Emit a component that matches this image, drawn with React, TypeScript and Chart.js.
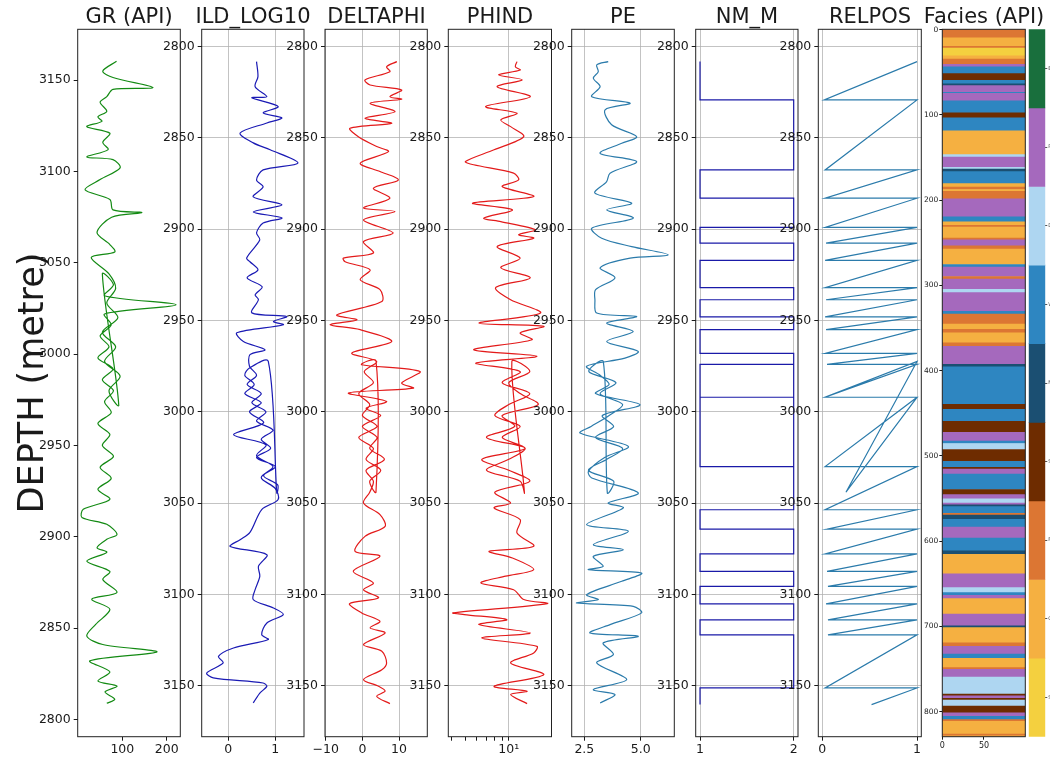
import React, { useEffect, useRef } from "react";
import { Chart, registerables } from "chart.js";
Chart.register(...registerables);

const FONT = "'DejaVu Sans', 'Liberation Sans', sans-serif";
const TEXT = "#1a1a1a";
const GRID = "rgba(175,175,175,0.75)";

// ---------- tick labels ----------
const depthTicks = [2800, 2850, 2900, 2950, 3000, 3050, 3100, 3150];
const grTicks = [100, 200];
const ildTicks = [0, 1];
const dphiTicks = [-10, 0, 10];
const phindTicks = [4, 5, 6, 7, 8, 9, 10];
const peTicks = [2.5, 5.0];
const nmTicks = [1, 2];
const relposTicks = [0, 1];
const faciesRowTicks = [0, 100, 200, 300, 400, 500, 600, 700, 800];
const faciesColTicks = [0, 50];

// ---------- GR ----------
const grDepthA = [2808.8, 2811, 2815, 2818.2, 2821, 2826, 2832, 2836.9, 2841, 2845.6, 2852, 2860.3, 2865.8, 2869.5, 2876.6, 2881, 2886.6, 2891.5, 2894, 2898.6, 2901.3, 2906.8, 2910.6, 2915, 2920.5, 2926, 2932, 2938, 2944, 2950, 2956, 2962, 2968, 2974, 2980, 2986, 2992, 2998, 3004, 3010, 3016, 3022, 3027, 3032, 3038, 3044];
const grA = [65, 83, 61, 88, 45, 72, 27, 178, 56, 20, 40, 72, 31, 88, 56, 72, 20, 65, 43, 65, 88, 65, 9, 12, 72, 45, 75, 50, 80, 55, 72, 45, 75, 60, 80, 55, 79, 45, 70, 50, 75, 60, 221, 60, 80, 55];
const grDepthB = [2972, 2980, 2988, 2996, 3004, 3012, 3020, 3028, 3036, 3044, 3053, 3056, 3060, 3066.6, 3075, 3077.5, 3079, 3084.7, 3090, 3095.6, 3102, 3106.5, 3108, 3112, 3116, 3121, 3124.6, 3127.5, 3130, 3133, 3138, 3141, 3145, 3146, 3151.5, 3155, 3160.4];
const grB = [92, 70, 95, 60, 85, 55, 90, 65, 85, 70, 30, 83, 72, 43, 76, 144, 79, 72, 16, 50, 95, 79, 20, 68, 56, 72, 20, 54, 45, 65, 50, 65, 79, 169, 79, 56, 87];

// ---------- ILD_LOG10 ----------
const ildDepthA = [2808.2, 2816.4, 2821.9, 2827.4, 2828, 2832.8, 2836.3, 2839, 2841.8, 2847.3, 2852.7, 2856.5, 2863.7, 2867.5, 2873, 2876.8, 2882.3, 2886.6, 2890.5, 2893.8, 2896.6, 2902, 2905.8, 2915.7, 2917.8, 2922.2, 2926.6, 2931.5, 2935.9, 2938.6, 2945.8, 2947.8, 2950.5, 2952.3, 2956.7, 2961.5, 2966, 2968.7, 2975, 2980, 2985, 2990, 2995, 3000, 3005, 3010, 3015, 3020, 3025, 3030, 3035, 3040, 3044.4];
const ildA = [0.6, 0.63, 0.57, 0.82, 0.5, 1.06, 0.74, 1.14, 0.82, 0.25, 0.53, 0.89, 1.48, 0.74, 0.6, 0.74, 0.53, 1.14, 0.53, 1.14, 0.74, 0.6, 0.67, 0.39, 0.46, 0.63, 0.4, 0.72, 0.57, 0.64, 0.5, 1.24, 0.96, 1.17, 0.18, 0.32, 0.78, 0.46, 0.45, 0.6, 0.4, 0.7, 0.5, 0.8, 0.6, 0.95, 0.7, 0.9, 0.6, 1.0, 0.75, 1.05, 1.03];
const ildDepthB = [2972.4, 2976, 2980, 2985, 2990, 2995, 3000, 3006, 3012.5, 3018, 3024, 3030, 3036, 3042, 3048, 3053.5, 3066, 3070, 3073.7, 3078.2, 3084.6, 3090, 3097.4, 3102.8, 3107.4, 3111, 3115.6, 3122, 3124.7, 3129.3, 3133.9, 3137.5, 3143, 3145.7, 3148.5, 3150.3, 3154, 3159.4];
const ildB = [0.85, 0.45, 0.35, 0.55, 0.35, 0.7, 0.45, 0.75, 0.11, 0.8, 0.6, 0.95, 0.7, 1.0, 1.06, 0.71, 0.46, 0.25, 0.04, 0.82, 0.64, 0.67, 0.57, 0.53, 0.96, 1.17, 0.82, 0.71, 0.85, 0.11, -0.21, -0.11, -0.46, -0.32, 0.74, 0.82, 0.67, 0.53];

// ---------- DELTAPHI ----------
const dphiDepthA = [2808.2, 2811, 2813.7, 2818.2, 2821, 2823.7, 2827.4, 2828.8, 2831, 2835.6, 2839.2, 2842, 2844.7, 2849.3, 2854.7, 2857.5, 2863.8, 2868.4, 2873, 2877.5, 2883, 2888.4, 2890.3, 2894.9, 2902.1, 2906.7, 2913, 2915.8, 2917.8, 2922.2, 2927.7, 2933.1, 2939.6, 2946.9, 2949.6, 2952.3, 2955, 2961.5, 2967.8, 2972.4, 2978, 2984, 2990, 2996, 3002, 3008, 3014, 3020, 3026, 3032, 3038, 3044];
const dphiA = [9.4, 6.6, 7.5, 0.7, 2.1, 10.7, 7.5, 10.7, 2.1, 8.9, 0.7, 8.0, -3.4, -1.1, 3.9, 7.1, -0.6, 4.8, 9.8, 3.0, 7.5, 0.3, 8.9, 0.3, 8.4, 0.3, 3.0, -5.2, -4.7, 2.1, -0.6, 4.8, 5.3, -7.0, -1.5, -8.8, -0.6, 8.0, -2.9, 3.9, 0.5, 3, -1, 2, 0, 4, -1, 3, 1, 5, 2, 3.7];
const dphiDepthB = [2972, 2974.2, 2977.9, 2984.2, 2987, 2989.7, 2994.3, 2998, 3002, 3008, 3014, 3020, 3026, 3032, 3038, 3044, 3049.9, 3056.3, 3062.7, 3068.2, 3076.4, 3079.1, 3087.3, 3093.7, 3097.4, 3101.9, 3105, 3110.1, 3114.7, 3118.3, 3121.1, 3127.5, 3131.1, 3137.5, 3141.2, 3146.6, 3150.3, 3153, 3155.8, 3159.8];
const dphiB = [3.7, -0.2, 15.7, 10.7, 13.9, -3.8, 6.6, 1, 5, 0, 4, 2, 6, 1, 3, 2, 0.3, 4.8, 6.2, 0.7, -2.0, 4.8, -2.5, 3.0, 0.3, 4.4, -3.5, -0.2, 4.8, 2.1, 6.2, 0.3, 5.3, 6.6, 5.3, 0.3, 4.4, 6.2, 3.9, 7.5];

// ---------- PHIND ----------
const phindDepthA = [2808.2, 2811, 2812.8, 2815.5, 2818.2, 2821.9, 2827.4, 2832.8, 2836.5, 2840.1, 2843.8, 2849.3, 2856.5, 2862.9, 2864.7, 2869.3, 2873, 2876.6, 2882.1, 2885.7, 2889.4, 2893.9, 2895.8, 2900.3, 2903, 2904.9, 2909.5, 2915.8, 2921.1, 2926.6, 2932, 2938.6, 2945.9, 2951.4, 2953.2, 2956.8, 2960.5, 2966, 2969.6, 2973.3, 2978, 2984, 2990, 2996, 3002, 3008, 3014, 3020, 3026, 3032, 3038, 3044.4];
const phindA = [11.4, 11.1, 12.0, 8.5, 12.4, 8.3, 14.1, 6.9, 11.4, 8.8, 10.3, 12.7, 7.9, 5.0, 5.7, 10.8, 11.7, 9.0, 14.9, 5.6, 10.6, 6.7, 8.8, 15.3, 11.7, 14.9, 8.3, 12.0, 8.8, 14.1, 8.1, 10.3, 16.6, 6.2, 17.5, 12.0, 14.5, 5.7, 15.7, 5.9, 12, 9, 14, 10, 8, 12, 9, 13, 10, 7, 12, 12.85];
const phindDepthB = [2972.4, 2978, 2984, 2990, 2996, 3002, 3008, 3014, 3020, 3026, 3032, 3038, 3044, 3049.9, 3052.6, 3059, 3066.3, 3073.6, 3076.4, 3080, 3086.4, 3090, 3093.7, 3097.4, 3102.8, 3105, 3110.1, 3111, 3113.8, 3116.5, 3121.1, 3123.8, 3128.4, 3132, 3137.5, 3143.9, 3150.3, 3153, 3154.8, 3159.8];
const phindB = [10.5, 14, 10, 12, 16, 9, 11, 7, 13, 6.5, 10, 14, 8, 10.3, 7.9, 12.0, 11.4, 14.9, 7.3, 10.6, 14.9, 9.5, 6.4, 10.8, 12.7, 18.5, 4.1, 4.9, 9.7, 6.2, 14.1, 6.5, 15.7, 14.9, 10.3, 17.5, 7.9, 13.4, 10.3, 13.4];

// ---------- PE ----------
const peDepthA = [2808.2, 2810, 2813.7, 2817.3, 2821.9, 2827.4, 2831, 2834.6, 2842.8, 2849.3, 2852.9, 2858.4, 2862.9, 2869.3, 2873.9, 2880.2, 2885.7, 2889.4, 2893.9, 2899.4, 2904.9, 2909.5, 2914, 2915.8, 2921.1, 2926.6, 2933.1, 2938.6, 2945.9, 2947.8, 2951.4, 2956, 2961.5, 2966.9, 2970.6, 2975, 2980, 2985, 2990, 2996.1, 3002, 3008, 3014, 3020, 3026, 3032, 3038, 3044.4];
const peA = [3.56, 3.05, 3.12, 2.9, 3.2, 2.83, 4.53, 3.42, 3.71, 4.82, 4.16, 3.2, 4.82, 3.64, 3.49, 2.97, 4.6, 3.49, 4.67, 2.83, 3.27, 4.6, 6.22, 4.53, 3.2, 3.86, 3.0, 2.97, 3.05, 4.82, 3.49, 4.67, 3.49, 4.89, 4.3, 2.6, 3.2, 3.6, 3.0, 4.97, 3.3, 3.8, 3.0, 4.2, 3.5, 2.68, 3.8, 3.52];
const peDepthB = [2972.4, 2978, 2984, 2990, 2996, 3002, 3008, 3011.6, 3018.9, 3025, 3032.6, 3036.2, 3044.4, 3049.9, 3052.6, 3061.8, 3065.4, 3072.7, 3075.5, 3079.1, 3084.6, 3086.4, 3088.3, 3092.8, 3100.1, 3102.8, 3104.7, 3106.5, 3110.1, 3116.5, 3121.1, 3122.9, 3126.5, 3132.9, 3137.5, 3146.6, 3152.1, 3154.8, 3159.4];
const peB = [3.34, 2.7, 3.9, 3.2, 4.2, 3.6, 2.8, 2.31, 4.45, 3.4, 2.68, 2.83, 4.89, 3.56, 4.23, 2.6, 4.45, 2.9, 4.23, 2.9, 3.34, 2.68, 5.04, 4.16, 2.6, 3.12, 2.16, 4.67, 5.04, 3.64, 2.75, 4.89, 3.34, 3.79, 3.05, 4.38, 2.9, 3.86, 3.2];

// ---------- NM_M ----------
const nmDepthA = [2808.2, 2829.2, 2829.2, 2867.5, 2867.5, 2883.0, 2883.0, 2899.0, 2899.0, 2907.6, 2907.6, 2917, 2917, 2932, 2932, 2938.6, 2938.6, 2948, 2948, 2955, 2955, 2968, 2968, 2974, 2974, 2992, 2992, 3044];
const nmA = [1, 1, 2, 2, 1, 1, 2, 2, 1, 1, 2, 2, 1, 1, 2, 2, 1, 1, 2, 2, 1, 1, 2, 2, 1, 1, 2, 2];
const nmDepthB = [2972.4, 2992, 2992, 3030, 3030, 3053.6, 3053.6, 3064.2, 3064.2, 3077.8, 3077.8, 3087.4, 3087.4, 3095.6, 3095.6, 3105.2, 3105.2, 3113.9, 3113.9, 3122.1, 3122.1, 3151.2, 3151.2, 3160.3];
const nmB = [2, 2, 1, 1, 2, 2, 1, 1, 2, 2, 1, 1, 2, 2, 1, 1, 2, 2, 1, 1, 2, 2, 1, 1];

// ---------- RELPOS ----------
const relDepthA = [2808.2, 2829.2, 2829.2, 2867.5, 2867.5, 2883, 2883, 2899, 2899, 2907.6, 2907.6, 2917, 2917, 2932, 2932, 2938.6, 2938.6, 2948, 2948, 2955, 2955, 2968, 2968, 2974, 2974, 2992, 2992, 3044];
const relA = [1.0, 0.02, 1.0, 0.03, 1.0, 0.03, 1.0, 0.03, 1.0, 0.04, 1.0, 0.03, 1.0, 0.03, 1.0, 0.04, 1.0, 0.03, 1.0, 0.04, 1.0, 0.03, 1.0, 0.05, 1.0, 0.03, 1.0, 0.25];
const relDepthB = [2972.4, 2992, 2992, 3030, 3030, 3053.6, 3053.6, 3064.2, 3064.2, 3077.8, 3077.8, 3087.4, 3087.4, 3095.6, 3095.6, 3105.2, 3105.2, 3113.9, 3113.9, 3122.1, 3122.1, 3151.2, 3151.2, 3160.3];
const relB = [1.0, 0.03, 1.0, 0.03, 1.0, 0.03, 1.0, 0.05, 1.0, 0.03, 1.0, 0.05, 1.0, 0.06, 1.0, 0.04, 1.0, 0.06, 1.0, 0.06, 1.0, 0.03, 1.0, 0.52];

// ---------- Facies ----------
const faciesNames = ["SS", "CSiS", "FSiS", "SiSh", "MS", "WS", "D", "PS", "BS"];
const faciesColors = ["#F4D03F", "#F5B041", "#DC7633", "#6E2C00", "#1B4F72", "#2E86C1", "#AED6F1", "#A569BD", "#196F3D"];
const faciesStart = [0, 10, 20, 22, 31, 35, 41, 44, 52, 60, 64, 66, 74, 75, 84, 98, 104, 119, 147, 150, 162, 164, 167, 181, 185, 188, 190, 199, 220, 226, 230, 232, 245, 247, 254, 258, 276, 279, 290, 293, 305, 309, 331, 334, 346, 352, 356, 368, 372, 393, 396, 440, 446, 460, 473, 483, 486, 493, 507, 514, 516, 522, 540, 546, 551, 556, 558, 560, 568, 570, 575, 584, 597, 612, 616, 639, 655, 661, 664, 668, 686, 700, 702, 720, 724, 733, 738, 749, 751, 760, 780, 782, 785, 787, 794, 802, 806, 810, 812, 827, 829];
const faciesCode = [3, 2, 3, 1, 2, 3, 8, 6, 4, 6, 5, 8, 6, 8, 6, 4, 6, 2, 7, 8, 7, 5, 6, 2, 3, 2, 3, 8, 6, 2, 3, 2, 3, 8, 3, 2, 6, 8, 3, 8, 7, 8, 6, 3, 2, 3, 2, 3, 8, 5, 6, 4, 6, 4, 8, 6, 7, 4, 6, 4, 8, 6, 4, 8, 7, 8, 5, 6, 3, 5, 6, 8, 6, 5, 2, 8, 7, 6, 8, 2, 8, 5, 2, 3, 8, 6, 2, 3, 8, 7, 4, 8, 4, 7, 4, 8, 6, 3, 2, 3, 2];
const faciesRows = 830;

// ---------- helpers ----------
const pts = (d: number[], v: number[]) => d.map((y, i) => ({ x: v[i], y }));
const join = (dA: number[], a: number[], dB: number[], b: number[]) => [...pts(dA, a), ...pts(dB, b)];

const framePlugin = {
  id: "frame",
  afterDatasetsDraw(chart: any) {
    const { ctx, chartArea: a } = chart;
    ctx.save();
    ctx.strokeStyle = "#222";
    ctx.lineWidth = 1;
    ctx.strokeRect(a.left, a.top, a.right - a.left, a.bottom - a.top);
    ctx.restore();
  },
};

const Y_MIN = 2790.5;
const Y_MAX = 3177.9;
const TOP = 29.3;
const BOTTOM_H = 762 - 736.7;

type Track = {
  title: string;
  left: number;
  right: number;
  axisW: number;
  xType: "linear" | "logarithmic";
  xMin: number;
  xMax: number;
  xTicks: number[];
  fmt: (v: number) => string;
  grid: boolean;
  gridAt?: (v: number) => boolean;
  reverse: boolean;
  color: string;
  smooth: number;
  data: { x: number; y: number }[];
  yTitle?: string;
};

const minus = (s: string) => s.replace("-", "\u2212");

const tracks: Track[] = [
  { title: "GR (API)", left: 77.7, right: 180.3, axisW: 77.7, xType: "linear", xMin: -0.5, xMax: 230.6, xTicks: grTicks, fmt: (v) => String(v), grid: false, reverse: false, color: "#138a13", smooth: 0.3, data: join(grDepthA, grA, grDepthB, grB), yTitle: "DEPTH (metre)" },
  { title: "ILD_LOG10", left: 201.7, right: 304.0, axisW: 45, xType: "linear", xMin: -0.567, xMax: 1.61, xTicks: ildTicks, fmt: (v) => minus(String(v)), grid: true, reverse: true, color: "#1a1ab4", smooth: 0.3, data: join(ildDepthA, ildA, ildDepthB, ildB) },
  { title: "DELTAPHI", left: 325.0, right: 427.3, axisW: 45, xType: "linear", xMin: -10.2, xMax: 17.7, xTicks: dphiTicks, fmt: (v) => minus(String(v)), grid: true, reverse: true, color: "#e31a1a", smooth: 0.3, data: join(dphiDepthA, dphiA, dphiDepthB, dphiB) },
  { title: "PHIND", left: 448.3, right: 551.5, axisW: 45, xType: "logarithmic", xMin: 3.8, xMax: 19.8, xTicks: phindTicks, fmt: (v) => (v === 10 ? "10\u00b9" : ""), grid: true, gridAt: (v) => v === 10, reverse: true, color: "#e31a1a", smooth: 0.3, data: join(phindDepthA, phindA, phindDepthB, phindB) },
  { title: "PE", left: 571.7, right: 674.3, axisW: 45, xType: "linear", xMin: 1.94, xMax: 6.49, xTicks: peTicks, fmt: (v) => v.toFixed(1), grid: true, reverse: true, color: "#2b7bab", smooth: 0.3, data: join(peDepthA, peA, peDepthB, peB) },
  { title: "NM_M", left: 695.7, right: 798.0, axisW: 45, xType: "linear", xMin: 0.954, xMax: 2.046, xTicks: nmTicks, fmt: (v) => String(v), grid: true, reverse: true, color: "#1a1aa8", smooth: 0, data: join(nmDepthA, nmA, nmDepthB, nmB) },
  { title: "RELPOS", left: 818.3, right: 921.3, axisW: 45, xType: "linear", xMin: -0.042, xMax: 1.045, xTicks: relposTicks, fmt: (v) => String(v), grid: true, reverse: true, color: "#2b7bab", smooth: 0, data: join(relDepthA, relA, relDepthB, relB) },
];

function canvasGeom(left: number, right: number, axisW: number) {
  const canvasLeft = Math.floor(left - axisW);
  const leftW = left - canvasLeft;
  const frameW = right - left;
  const width = Math.ceil(2 * leftW + frameW);
  const rightW = width - leftW - frameW;
  return { canvasLeft, leftW, rightW, width };
}

function LogTrack({ t }: { t: Track }) {
  const ref = useRef<HTMLCanvasElement>(null);
  const g = canvasGeom(t.left, t.right, t.axisW);
  useEffect(() => {
    const chart = new Chart(ref.current as HTMLCanvasElement, {
      type: "scatter",
      data: {
        datasets: [
          { data: t.data, showLine: true, borderColor: t.color, borderWidth: 1.2, pointRadius: 0, pointHoverRadius: 0, tension: t.smooth, fill: false } as any,
        ],
      },
      options: {
        animation: false,
        responsive: false,
        devicePixelRatio: 1,
        events: [],
        layout: { padding: 0 },
        plugins: {
          legend: { display: false },
          tooltip: { enabled: false },
          title: { display: true, text: t.title, color: TEXT, font: { family: FONT, size: 21, weight: "normal" as any, lineHeight: 1.2 }, padding: { top: 4.5, bottom: TOP - 4.5 - 25.2 } },
        },
        scales: {
          x: {
            type: t.xType,
            min: t.xMin,
            max: t.xMax,
            position: "bottom",
            afterBuildTicks: (s: any) => { s.ticks = t.xTicks.map((v) => ({ value: v })); },
            afterFit: (s: any) => { s.height = BOTTOM_H; },
            ticks: { font: { family: FONT, size: 12.5 }, color: TEXT, padding: 2, maxRotation: 0, autoSkip: false, callback: (v: any) => t.fmt(Number(v)) },
            grid: {
              display: true,
              drawOnChartArea: t.grid,
              color: (c: any) => (t.grid && (!t.gridAt || (c.tick && t.gridAt(c.tick.value))) ? GRID : "rgba(0,0,0,0)"),
              tickLength: 4,
              tickColor: TEXT,
              lineWidth: 1,
            },
            border: { display: false },
          } as any,
          y: {
            type: "linear",
            min: Y_MIN,
            max: Y_MAX,
            reverse: t.reverse,
            position: "left",
            afterBuildTicks: (s: any) => { s.ticks = depthTicks.map((v) => ({ value: v })); },
            afterFit: (s: any) => { s.width = g.leftW; },
            ticks: { font: { family: FONT, size: 12.5 }, color: TEXT, padding: 3, autoSkip: false, callback: (v: any) => String(v) },
            grid: { display: true, drawOnChartArea: t.grid, color: GRID, tickLength: 4, tickColor: TEXT, lineWidth: 1 },
            border: { display: false },
            title: t.yTitle
              ? { display: true, text: t.yTitle, color: TEXT, font: { family: FONT, size: 35 }, padding: { top: 13, bottom: 0 } }
              : { display: false },
          } as any,
          yR: {
            type: "linear",
            position: "right",
            display: true,
            ticks: { display: false },
            grid: { display: false },
            border: { display: false },
            afterFit: (s: any) => { s.width = g.rightW; },
          } as any,
        },
      },
      plugins: [framePlugin],
    });
    return () => chart.destroy();
  }, []);
  return <canvas ref={ref} width={g.width} height={762} style={{ position: "absolute", left: g.canvasLeft, top: 0, width: g.width, height: 762 }} />;
}

function FaciesTrack() {
  const ref = useRef<HTMLCanvasElement>(null);
  const left = 942.3;
  const right = 1025.3;
  const g = canvasGeom(left, right, 24.5);
  useEffect(() => {
    const bars = faciesStart.map((s, i) => ({ x: 50, y: [s - 0.5, (i < faciesStart.length - 1 ? faciesStart[i + 1] : faciesRows) - 0.5] }));
    const chart = new Chart(ref.current as HTMLCanvasElement, {
      type: "bar",
      data: {
        datasets: [
          { data: bars as any, backgroundColor: faciesCode.map((c) => faciesColors[c - 1]), borderWidth: 0, barThickness: right - left + 0.5, grouped: false } as any,
        ],
      },
      options: {
        animation: false,
        responsive: false,
        devicePixelRatio: 1,
        events: [],
        layout: { padding: 0 },
        plugins: {
          legend: { display: false },
          tooltip: { enabled: false },
          title: { display: true, text: "Facies (API)", color: TEXT, font: { family: FONT, size: 21, weight: "normal" as any, lineHeight: 1.2 }, padding: { top: 4.5, bottom: TOP - 4.5 - 25.2 } },
        },
        scales: {
          x: {
            type: "linear",
            min: 0,
            max: 99.6,
            offset: false,
            afterBuildTicks: (s: any) => { s.ticks = faciesColTicks.map((v) => ({ value: v })); },
            afterFit: (s: any) => { s.height = BOTTOM_H; },
            ticks: { font: { family: FONT, size: 8 }, color: TEXT, padding: 1, maxRotation: 0, autoSkip: false },
            grid: { display: true, drawOnChartArea: false, tickLength: 3, tickColor: TEXT, offset: false },
            border: { display: false },
          } as any,
          y: {
            type: "linear",
            min: -0.5,
            max: faciesRows - 0.5,
            reverse: true,
            afterBuildTicks: (s: any) => { s.ticks = faciesRowTicks.map((v) => ({ value: v })); },
            afterFit: (s: any) => { s.width = g.leftW; },
            ticks: { font: { family: FONT, size: 7.5 }, color: TEXT, padding: 1, autoSkip: false },
            grid: { display: true, drawOnChartArea: false, tickLength: 3, tickColor: TEXT },
            border: { display: false },
          } as any,
          yR: {
            type: "linear",
            position: "right",
            display: true,
            ticks: { display: false },
            grid: { display: false },
            border: { display: false },
            afterFit: (s: any) => { s.width = g.rightW; },
          } as any,
        },
      },
      plugins: [framePlugin],
    });
    return () => chart.destroy();
  }, []);
  return <canvas ref={ref} width={g.width} height={762} style={{ position: "absolute", left: g.canvasLeft, top: 0, width: g.width, height: 762 }} />;
}

function ColorBar() {
  const ref = useRef<HTMLCanvasElement>(null);
  const canvasLeft = 1020;
  const width = 30;
  useEffect(() => {
    const bars = faciesNames.map((_, i) => ({ x: 0.5, y: [i, i + 1] }));
    const chart = new Chart(ref.current as HTMLCanvasElement, {
      type: "bar",
      data: { datasets: [{ data: bars as any, backgroundColor: faciesColors, borderWidth: 0, barThickness: 16.8, grouped: false } as any] },
      options: {
        animation: false,
        responsive: false,
        devicePixelRatio: 1,
        events: [],
        layout: { padding: { top: TOP, bottom: BOTTOM_H, left: 8.7, right: 0 } },
        plugins: { legend: { display: false }, tooltip: { enabled: false } },
        scales: {
          x: { type: "linear", min: 0, max: 1, display: false, offset: false } as any,
          y: {
            type: "linear",
            min: 0,
            max: 9,
            position: "right",
            afterBuildTicks: (s: any) => { s.ticks = faciesNames.map((_, i) => ({ value: i + 0.5 })); },
            afterFit: (s: any) => { s.width = width - 8.7 - 16.6; },
            ticks: { font: { family: FONT, size: 5 }, color: "#555", padding: 1, autoSkip: false, callback: (v: any) => faciesNames[Math.floor(Number(v))] },
            grid: { display: true, drawOnChartArea: false, tickLength: 2, tickColor: "#555" },
            border: { display: false },
          } as any,
        },
      },
    });
    return () => chart.destroy();
  }, []);
  return <canvas ref={ref} width={width} height={762} style={{ position: "absolute", left: canvasLeft, top: 0, width, height: 762 }} />;
}

export default function App() {
  return (
    <div style={{ position: "fixed", left: 0, top: 0, width: 1050, height: 762, background: "#fff", overflow: "hidden" }}>
      {tracks.map((t) => (
        <LogTrack key={t.title} t={t} />
      ))}
      <FaciesTrack />
      <ColorBar />
    </div>
  );
}
